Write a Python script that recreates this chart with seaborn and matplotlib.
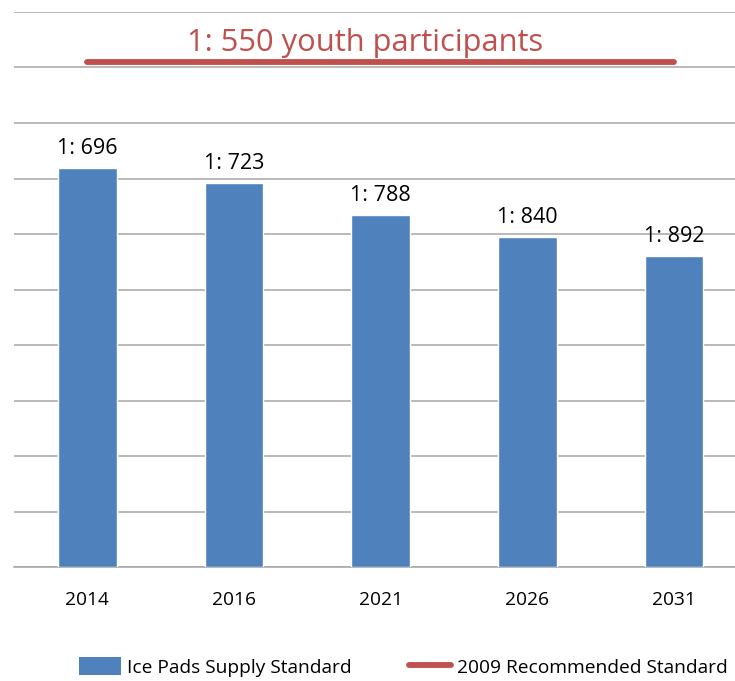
import matplotlib
matplotlib.use("Agg")
import matplotlib.pyplot as plt
from matplotlib.lines import Line2D
from matplotlib.patches import Patch
import numpy as np
import pandas as pd
import seaborn as sns

# Ice pad supply: one pad per N youth participants
years = ["2014", "2016", "2021", "2026", "2031"]
participants_per_pad = [696, 723, 788, 840, 892]
recommended_per_pad = 550
bar_labels = [f"1: {n}" for n in participants_per_pad]
standard_label = f"1: {recommended_per_pad} youth participants"

BLUE = "#4F81BD"
RED = "#C0504D"
GRID = "#A6A6A6"

sns.set_theme(style="white")
plt.rcParams["font.family"] = ["Open Sans", "DejaVu Sans"]

df = pd.DataFrame({
    "year": years,
    "supply": [1.0 / n for n in participants_per_pad],
})

W, H = 735, 681
fig = plt.figure(figsize=(W / 100, H / 100), dpi=100)
left, right, top, bottom = 14, 747.5, 12, 567
ax = fig.add_axes([left / W, 1 - bottom / H, (right - left) / W, (bottom - top) / H])

sns.barplot(data=df, x="year", y="supply", color=BLUE, width=0.4,
            saturation=1, ax=ax, zorder=3)

ax.set_ylim(0, 0.002)
ax.set_xlim(-0.5, 4.5)
ax.set_yticks(np.arange(0, 0.00201, 0.0002))
ax.yaxis.grid(True, color=GRID, linewidth=1.1, zorder=0)
ax.tick_params(axis="y", left=False, labelleft=False)
ax.set_xlabel("")
ax.set_ylabel("")
for s in ["left", "right", "top"]:
    ax.spines[s].set_visible(False)
ax.spines["bottom"].set_color(GRID)
ax.spines["bottom"].set_linewidth(1.1)

# tick marks sit between the categories
ax.set_xticks(np.arange(-0.5, 5.0, 1.0), minor=True)
ax.tick_params(axis="x", which="minor", length=7, color=GRID, width=1.1, direction="out")
ax.tick_params(axis="x", which="major", length=0, pad=17, labelsize=13.8, labelcolor="#000000")

# value labels above each bar
for i, (v, lab) in enumerate(zip(df["supply"], bar_labels)):
    ax.annotate(lab, (i, v), xytext=(0, 6.5), textcoords="offset points",
                ha="center", va="bottom", fontsize=15.5, color="#000000")

# recommended standard line with its caption
std_value = 1.0 / recommended_per_pad
ax.plot([0, len(years) - 1], [std_value, std_value], color=RED, linewidth=4.2,
        solid_capstyle="round", zorder=4, clip_on=False)
ax.annotate(standard_label, ((len(years) - 1) / 2, std_value), xytext=(-11, 3),
            textcoords="offset points", ha="center", va="bottom",
            fontsize=22.2, color=RED)

handles = [Patch(facecolor=BLUE, edgecolor="none"),
           Line2D([0], [0], color=RED, linewidth=4.2, solid_capstyle="round")]
fig.legend(handles, ["Ice Pads Supply Standard", "2009 Recommended Standard"],
           loc="center", bbox_to_anchor=(403 / W, 1 - 667 / H), ncol=2,
           frameon=False, fontsize=13.8, handlelength=2.2, handleheight=1.0,
           handletextpad=0.3, columnspacing=3.0, labelcolor="#000000")

fig.savefig("out.png", dpi=100)
